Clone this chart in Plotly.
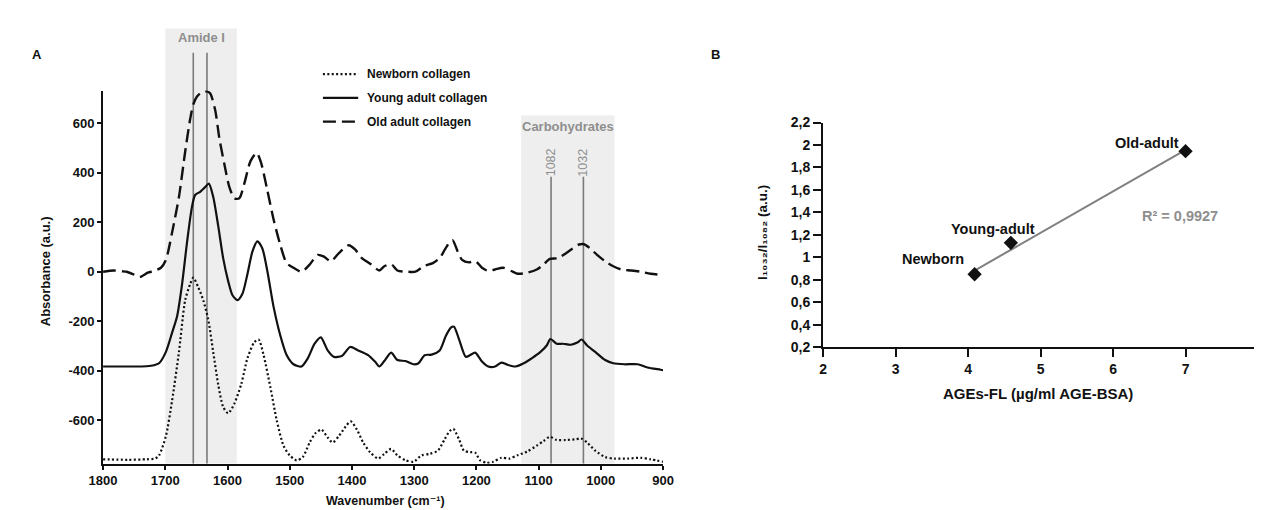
import plotly.graph_objects as go

W, H = 1262, 510

# ---------------- Panel A data (FTIR spectra) ----------------
old_wn = [1800, 1783, 1770, 1762, 1750, 1741, 1728, 1718, 1707, 1699, 1689, 1678, 1668, 1660, 1655,
          1649, 1641, 1634, 1628, 1620, 1613, 1605, 1597, 1589, 1581, 1573, 1563, 1553, 1546, 1536,
          1526, 1515, 1505, 1494, 1481, 1468, 1455, 1445, 1434, 1421, 1405, 1395, 1384, 1369, 1356,
          1348, 1337, 1327, 1311, 1298, 1285, 1270, 1259, 1251, 1243, 1238, 1230, 1223, 1212, 1202,
          1191, 1181, 1170, 1157, 1144, 1134, 1118, 1103, 1092, 1082, 1069, 1056, 1045, 1035, 1027,
          1017, 1006, 993, 980, 967, 951, 936, 920, 900]
old_abs = [0, 5, 2, 0, -12, -21, -4, 3, 16, 48, 159, 303, 486, 617, 676,
           708, 726, 729, 721, 656, 538, 434, 342, 297, 297, 356, 447, 480, 440, 329,
           212, 107, 35, 16, 0, 29, 68, 61, 42, 75, 107, 90, 55, 29, 5,
           22, 31, 5, 0, 0, 22, 35, 55, 88, 120, 127, 81, 48, 38, 44,
           16, 3, 9, 16, 3, -8, -4, 9, 29, 52, 55, 75, 94, 110, 111,
           94, 68, 42, 22, 9, 5, 0, -8, -13]

young_wn = [1800, 1760, 1730, 1718, 1710, 1699, 1689, 1681, 1673, 1665, 1657, 1652, 1644, 1636, 1630,
            1623, 1615, 1607, 1599, 1592, 1584, 1576, 1568, 1560, 1552, 1544, 1536, 1526, 1515, 1505,
            1494, 1481, 1471, 1460, 1450, 1439, 1429, 1416, 1403, 1390, 1374, 1363, 1356, 1348, 1337,
            1327, 1314, 1301, 1293, 1283, 1272, 1259, 1249, 1241, 1236, 1228, 1217, 1210, 1202, 1191,
            1181, 1170, 1160, 1150, 1137, 1124, 1110, 1097, 1087, 1081, 1071, 1061, 1048, 1037, 1031,
            1022, 1009, 993, 980, 962, 941, 925, 904, 900]
young_abs = [-383, -383, -382, -378, -370, -324, -246, -180, -50, 120, 264, 310, 323, 342, 356,
             303, 186, 55, -37, -95, -115, -89, -10, 81, 123, 94, 3, -141, -259, -337,
             -374, -383, -350, -291, -265, -318, -344, -340, -304, -318, -337, -363, -383, -361, -327,
             -357, -361, -374, -370, -337, -335, -318, -259, -226, -222, -272, -344, -337, -327, -363,
             -383, -383, -367, -376, -383, -370, -348, -324, -298, -272, -291, -291, -295, -285, -274,
             -298, -324, -357, -370, -374, -374, -387, -396, -398]

newborn_wn = [1800, 1760, 1730, 1716, 1710, 1699, 1689, 1678, 1668, 1660, 1655, 1647, 1639, 1631, 1623,
              1615, 1607, 1599, 1589, 1578, 1568, 1557, 1550, 1542, 1531, 1521, 1510, 1500, 1489, 1479,
              1468, 1458, 1449, 1439, 1431, 1421, 1410, 1402, 1392, 1382, 1371, 1358, 1348, 1337, 1327,
              1314, 1301, 1288, 1275, 1262, 1251, 1243, 1237, 1228, 1220, 1210, 1202, 1194, 1184, 1173,
              1160, 1147, 1134, 1118, 1103, 1092, 1082, 1071, 1056, 1040, 1032, 1022, 1009, 993, 978,
              957, 936, 920, 900]
newborn_abs = [-758, -760, -758, -755, -742, -664, -520, -324, -115, -50, -24, -63, -115, -193, -324,
               -455, -546, -572, -533, -455, -350, -285, -274, -337, -468, -599, -703, -742, -762, -749,
               -690, -651, -638, -670, -690, -664, -625, -605, -638, -690, -729, -755, -736, -716, -742,
               -762, -768, -742, -736, -723, -677, -644, -635, -677, -723, -729, -731, -762, -772, -768,
               -752, -755, -742, -726, -703, -684, -667, -680, -680, -677, -674, -690, -723, -749, -755,
               -755, -752, -758, -768]

series_names = ["Newborn collagen", "Young adult collagen", "Old adult collagen"]

a_xticks = [1800, 1700, 1600, 1500, 1400, 1300, 1200, 1100, 1000, 900]
a_yticks = [-600, -400, -200, 0, 200, 400, 600]
a_yticktext = ["-600", "-400", "-200", "0", "200", "400", "600"]

amide_band = [1700, 1585]
amide_lines = [1655, 1633]
carb_band = [1128, 978]
carb_lines = [1080, 1028]
carb_labels = ["1082", "1032"]

# ---------------- Panel B data ----------------
b_names = ["Newborn", "Young-adult", "Old-adult"]
b_x = [4.09, 4.59, 7.0]
b_y = [0.85, 1.13, 1.945]
trend_x = [4.09, 7.0]
trend_y = [0.883, 1.956]
r2_text = "R² = 0,9927"
b_xticks = [2, 3, 4, 5, 6, 7, 8]
b_yticks = [0.2, 0.4, 0.6, 0.8, 1.0, 1.2, 1.4, 1.6, 1.8, 2.0, 2.2]
b_yticktext = ["0,2", "0,4", "0,6", "0,8", "1", "1,2", "1,4", "1,6", "1,8", "2", "2,2"]


def px(x):
    return x / W


def py(y):
    return 1 - y / H


FONT = "Liberation Sans, Arial, DejaVu Sans, sans-serif"
BLACK = "#111111"
GRAY_TXT = "#8e8e8e"
GRAY_LINE = "#7a7a7a"
BAND = "#eeeeee"

styles = {
    "Newborn collagen": dict(color=BLACK, width=2.2, dash="2px,2.4px"),
    "Young adult collagen": dict(color=BLACK, width=2.2, dash="solid"),
    "Old adult collagen": dict(color=BLACK, width=2.4, dash="13px,6px"),
}

fig = go.Figure()

for name, xs, ys in zip(series_names,
                        [newborn_wn, young_wn, old_wn],
                        [newborn_abs, young_abs, old_abs]):
    fig.add_trace(go.Scatter(x=xs, y=ys, mode="lines", name=name,
                             line=dict(shape="spline", smoothing=0.7, **styles[name]),
                             xaxis="x", yaxis="y", showlegend=False, cliponaxis=False))

# Panel B
fig.add_trace(go.Scatter(x=trend_x, y=trend_y, mode="lines", line=dict(color="#808080", width=2),
                         xaxis="x2", yaxis="y2", showlegend=False))
fig.add_trace(go.Scatter(x=b_x, y=b_y, mode="markers",
                         marker=dict(symbol="diamond", size=11, color=BLACK),
                         xaxis="x2", yaxis="y2", showlegend=False))

# ---- domains (screen-pixel layout) ----
ax_left, ax_right = 82.7, 654.0
ay_top, ay_bot = 77.0, 462.0
bx_left, bx_right = 817.3, 1261.0
by_top, by_bot = 110.0, 342.0

tickfont = dict(family=FONT, size=13, color=BLACK, weight="bold")
tickfont_b = dict(family=FONT, size=14, color=BLACK, weight="bold")

fig.update_layout(
    width=W, height=H,
    margin=dict(l=0, r=0, t=0, b=0),
    paper_bgcolor="white", plot_bgcolor="rgba(0,0,0,0)",
    xaxis=dict(domain=[px(ax_left), px(ax_right)], range=[1800, 900], anchor="y",
               tickvals=a_xticks, ticks="outside", ticklen=4, tickwidth=1.5, tickcolor=BLACK,
               showline=True, linewidth=2, linecolor=BLACK, showgrid=False, zeroline=False,
               tickfont=tickfont),
    yaxis=dict(domain=[py(ay_bot), py(ay_top)], range=[-775, 732], anchor="x",
               tickvals=a_yticks, ticktext=a_yticktext, ticks="outside", ticklen=4, tickwidth=1.5,
               tickcolor=BLACK, showline=True, linewidth=2, linecolor=BLACK, showgrid=False,
               zeroline=False, tickfont=tickfont),
    xaxis2=dict(domain=[px(bx_left), px(bx_right)], range=[2, 8], anchor="y2",
                tickvals=b_xticks, ticks="outside", ticklen=8, tickwidth=2, tickcolor=BLACK,
                showline=True, linewidth=2, linecolor=BLACK, showgrid=False, zeroline=False,
                tickfont=tickfont_b),
    yaxis2=dict(domain=[py(by_bot), py(by_top)], range=[0.2, 2.2], anchor="x2",
                tickvals=b_yticks, ticktext=b_yticktext, ticks="outside", ticklen=8, tickwidth=2,
                tickcolor=BLACK, showline=True, linewidth=2, linecolor=BLACK, showgrid=False,
                zeroline=False, tickfont=tickfont_b),
)

shapes = []
# shaded bands
shapes.append(dict(type="rect", xref="x", yref="paper", x0=amide_band[0], x1=amide_band[1],
                   y0=py(ay_bot), y1=py(13), fillcolor=BAND, line=dict(width=0), layer="below"))
shapes.append(dict(type="rect", xref="x", yref="paper", x0=carb_band[0], x1=carb_band[1],
                   y0=py(ay_bot), y1=py(102.7), fillcolor=BAND, line=dict(width=0), layer="below"))
for xv in amide_lines:
    shapes.append(dict(type="line", xref="x", yref="paper", x0=xv, x1=xv, y0=py(ay_bot), y1=py(38),
                       line=dict(color=GRAY_LINE, width=1.6), layer="below"))
for xv in carb_lines:
    shapes.append(dict(type="line", xref="x", yref="paper", x0=xv, x1=xv, y0=py(ay_bot), y1=py(166),
                       line=dict(color=GRAY_LINE, width=1.6), layer="below"))

# manual legend
legend_rows = [60, 84.5, 109]
for name, yrow in zip(series_names, legend_rows):
    st = styles[name]
    shapes.append(dict(type="line", xref="paper", yref="paper", x0=px(307), x1=px(343),
                       y0=py(yrow), y1=py(yrow),
                       line=dict(color=st["color"], width=st["width"], dash=st["dash"])))
fig.update_layout(shapes=shapes)

ann = []
for name, yrow in zip(series_names, legend_rows):
    ann.append(dict(text=name, xref="paper", yref="paper", x=px(350), y=py(yrow), xanchor="left",
                    yanchor="middle", showarrow=False,
                    font=dict(family=FONT, size=12, color=BLACK, weight="bold")))

ann.append(dict(text="Amide I", xref="x", yref="paper", x=sum(amide_band) / 2, y=py(22),
                showarrow=False, xanchor="center", yanchor="middle",
                font=dict(family=FONT, size=13, color=GRAY_TXT, weight="bold")))
ann.append(dict(text="Carbohydrates", xref="x", yref="paper", x=sum(carb_band) / 2, y=py(114),
                showarrow=False, xanchor="center", yanchor="middle",
                font=dict(family=FONT, size=13, color=GRAY_TXT, weight="bold")))
for xv, lab in zip(carb_lines, carb_labels):
    ann.append(dict(text=lab, xref="x", yref="paper", x=xv, y=py(151), textangle=-90,
                    showarrow=False, xanchor="center", yanchor="middle",
                    font=dict(family=FONT, size=12.5, color=GRAY_TXT)))

# panel letters and axis titles
ann.append(dict(text="A", xref="paper", yref="paper", x=px(15), y=py(40), showarrow=False,
                xanchor="center", yanchor="middle",
                font=dict(family=FONT, size=13, color=BLACK, weight="bold")))
ann.append(dict(text="B", xref="paper", yref="paper", x=px(708), y=py(40), showarrow=False,
                xanchor="center", yanchor="middle",
                font=dict(family=FONT, size=13, color=BLACK, weight="bold")))
ann.append(dict(text="Absorbance (a.u.)", xref="paper", yref="paper", x=px(24), y=py(264),
                textangle=-90, showarrow=False, xanchor="center", yanchor="middle",
                font=dict(family=FONT, size=13, color=BLACK, weight="bold")))
ann.append(dict(text="Wavenumber (cm⁻¹)", xref="paper", yref="paper", x=px(371), y=py(501),
                showarrow=False, xanchor="center", yanchor="middle",
                font=dict(family=FONT, size=12.5, color=BLACK, weight="bold")))
ann.append(dict(text="AGEs-FL (µg/ml AGE-BSA)", xref="paper", yref="paper", x=px(1037), y=py(390),
                showarrow=False, xanchor="center", yanchor="middle",
                font=dict(family=FONT, size=15, color=BLACK, weight="bold")))
ann.append(dict(text="I₁₀₃₂/I₁₀₈₂ (a.u.)", xref="paper", yref="paper",
                x=px(756), y=py(224), textangle=-90, showarrow=False, xanchor="center",
                yanchor="middle", font=dict(family=FONT, size=13.5, color=BLACK, weight="bold")))

# panel B point labels
b_label_pos = [(3.51, 0.985), (4.35, 1.25), (6.47, 2.02)]
for name, (lx, ly) in zip(b_names, b_label_pos):
    ann.append(dict(text=name, xref="x2", yref="y2", x=lx, y=ly, showarrow=False,
                    xanchor="center", yanchor="middle",
                    font=dict(family=FONT, size=14.5, color=BLACK, weight="bold")))
ann.append(dict(text=r2_text, xref="x2", yref="y2", x=6.93, y=1.37, showarrow=False,
                xanchor="center", yanchor="middle",
                font=dict(family=FONT, size=14.5, color=GRAY_TXT, weight="bold")))

fig.update_layout(annotations=ann)

fig.write_html("out.html")
